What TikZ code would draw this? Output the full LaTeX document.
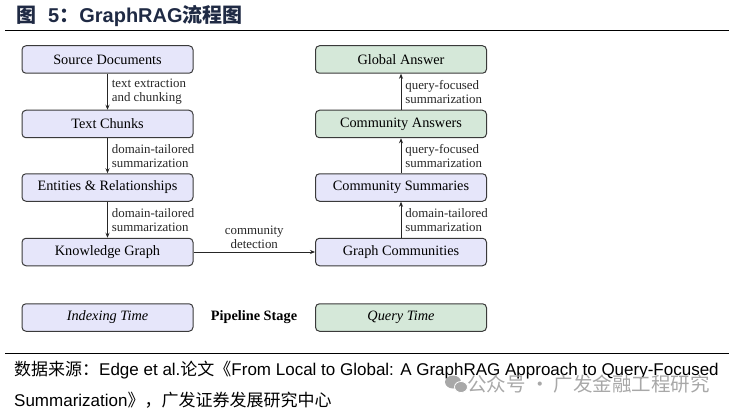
\documentclass[tikz,border=0pt]{standalone}
\usepackage{fontspec}
\setmainfont{Liberation Serif}
\newfontfamily\cjk{Noto Sans CJK SC}
\newfontfamily\arial{Liberation Sans}
\usetikzlibrary{arrows.meta}
\definecolor{idx}{HTML}{E6E6FA}
\definecolor{qry}{HTML}{D5E8D9}
\definecolor{bordc}{HTML}{3A3A3A}
\definecolor{navy}{HTML}{1F2A44}
\definecolor{wm}{HTML}{A8A8A8}
\begin{document}
\begin{tikzpicture}[x=1pt,y=-1pt,
  stage/.style={draw=bordc, line width=1pt, rounded corners=4pt, minimum width=171pt, minimum height=27.5pt, font=\fontsize{14.3}{16}\selectfont, inner sep=0pt},
  idxbox/.style={stage, fill=idx},
  qrybox/.style={stage, fill=qry},
  lbl/.style={font=\fontsize{12.9}{14}\selectfont, align=left, anchor=west, inner sep=0pt, text=black!85},
  conn/.style={-{Stealth[length=5pt,width=4pt]}, line width=0.7pt, draw=black!85},
  rule/.style={line width=1pt, draw=black}]
\useasboundingbox (0,0) rectangle (735,414);
% title
\node[anchor=west, inner sep=0pt, text=navy, font=\bfseries\fontsize{20}{22}\selectfont] (title) at (16,16)
  {{\cjk 图}\hspace{12pt}{\arial 5}{\cjk ：}{\arial GraphRAG}{\cjk 流程图}};
\draw[rule] (5,31) -- (729,31);
% left column
\node[idxbox] (sd) at (107.5,59.5) {Source Documents};
\node[idxbox] (tc) at (107.5,124) {Text Chunks};
\node[idxbox] (er) at (107.5,187.5) {Entities \& Relationships};
\node[idxbox] (kg) at (107.5,252) {Knowledge Graph};
% right column
\node[qrybox] (ga) at (401,59.5) {Global Answer};
\node[qrybox] (ca) at (401,124) {Community Answers};
\node[idxbox] (cs) at (401,187.5) {Community Summaries};
\node[idxbox] (gc) at (401,252) {Graph Communities};
% connectors
\draw[conn] (sd) -- (tc) node[lbl, midway, xshift=4pt] {text extraction\\and chunking};
\draw[conn] (tc) -- (er) node[lbl, midway, xshift=4pt] {domain-tailored\\summarization};
\draw[conn] (er) -- (kg) node[lbl, midway, xshift=4pt] {domain-tailored\\summarization};
\draw[conn] (kg) -- (gc) node[midway, above=3pt, align=center, inner sep=0pt, font=\fontsize{12.9}{14}\selectfont, text=black!85] {community\\detection};
\draw[conn] (gc) -- (cs) node[lbl, midway, xshift=4pt] {domain-tailored\\summarization};
\draw[conn] (cs) -- (ca) node[lbl, midway, xshift=4pt] {query-focused\\summarization};
\draw[conn] (ca) -- (ga) node[lbl, midway, xshift=4pt] {query-focused\\summarization};
% legend
\node[idxbox, font=\itshape\fontsize{14.3}{16}\selectfont] (li) at (107.5,317.5) {Indexing Time};
\node[font=\bfseries\fontsize{14.3}{16}\selectfont, inner sep=0pt] (lp) at (254,317.5) {Pipeline Stage};
\node[qrybox, font=\itshape\fontsize{14.3}{16}\selectfont] (lq) at (401,317.5) {Query Time};
% footer
\draw[rule] (5,353) -- (729,353);
\node[anchor=west, inner sep=0pt, font=\fontsize{17}{19}\selectfont] (f1) at (14,370)
  {{\cjk 数据来源：}{\arial Edge et al.}{\cjk 论文《}{\arial From Local to Global: A GraphRAG Approach to Query-Focused}};
\node[anchor=west, inner sep=0pt, font=\fontsize{17}{19}\selectfont] (f2) at (14,400)
  {{\arial Summarization}{\cjk 》，广发证券发展研究中心}};
% watermark
\fill[wm] (453,382) ellipse [x radius=8, y radius=6.5];
\fill[wm, draw=white, line width=0.8pt] (461,387) ellipse [x radius=6.5, y radius=5.5];
\node[anchor=west, inner sep=0pt, text=wm, font=\cjk\fontsize{19.5}{22}\selectfont] (wmk) at (467,384) {公众号 · 广发金融工程研究};
\end{tikzpicture}
\end{document}
